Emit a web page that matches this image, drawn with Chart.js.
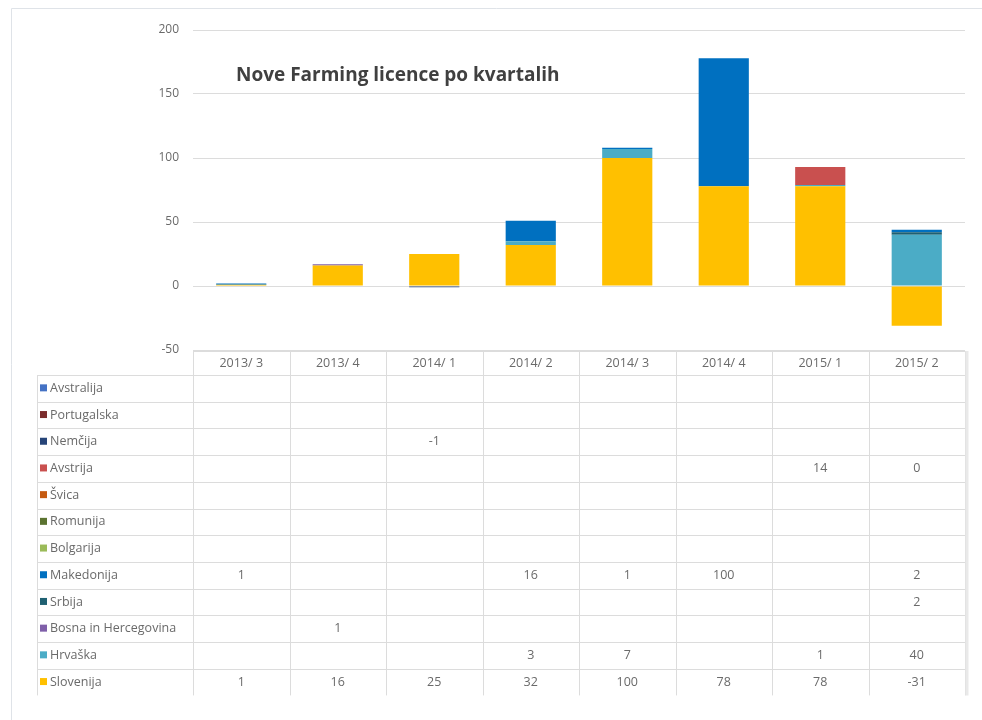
<!DOCTYPE html>
<html>
<head>
<meta charset="utf-8">
<script src="https://cdn.jsdelivr.net/npm/chart.js@4.4.1/dist/chart.umd.min.js"></script>
<style>
    html, body { margin: 0; padding: 0; background: #ffffff; }
    #wrap { width: 982px; height: 720px; }
</style>
</head>
<body>
<div id="wrap"><canvas id="licenceChart" width="982" height="720"></canvas></div>
<script>
// Categories (quarters)
const quarters = ["2013/ 3", "2013/ 4", "2014/ 1", "2014/ 2", "2014/ 3", "2014/ 4", "2015/ 1", "2015/ 2"];

// Series values
const slovenija   = [1, 16, 25, 32, 100, 78, 78, -31];
const hrvaska     = [null, null, null, 3, 7, null, 1, 40];
const bosna       = [null, 1, null, null, null, null, null, null];
const srbija      = [null, null, null, null, null, null, null, 2];
const makedonija  = [1, null, null, 16, 1, 100, null, 2];
const bolgarija   = [null, null, null, null, null, null, null, null];
const romunija    = [null, null, null, null, null, null, null, null];
const svica       = [null, null, null, null, null, null, null, null];
const avstrija    = [null, null, null, null, null, null, 14, 0];
const nemcija     = [null, null, -1, null, null, null, null, null];
const portugalska = [null, null, null, null, null, null, null, null];
const avstralija  = [null, null, null, null, null, null, null, null];

const yTicks = [-50, 0, 50, 100, 150, 200];
const chartTitle = "Nove Farming licence po kvartalih";

// Stack order: first series sits at the bottom of each column
const series = [
    { label: "Slovenija", data: slovenija, color: "#FFC000" },
    { label: "Hrvaška", data: hrvaska, color: "#4BACC6" },
    { label: "Bosna in Hercegovina", data: bosna, color: "#7F5FA9" },
    { label: "Srbija", data: srbija, color: "#1F6072" },
    { label: "Makedonija", data: makedonija, color: "#0070C0" },
    { label: "Bolgarija", data: bolgarija, color: "#9BBB59" },
    { label: "Romunija", data: romunija, color: "#5B7330" },
    { label: "Švica", data: svica, color: "#C55A11" },
    { label: "Avstrija", data: avstrija, color: "#C9504F" },
    { label: "Nemčija", data: nemcija, color: "#264478" },
    { label: "Portugalska", data: portugalska, color: "#7B2C2C" },
    { label: "Avstralija", data: avstralija, color: "#4472C4" },
];

const textColor = "#6a6a6a";
const lineColor = "#dcdcdc";
const baseFont = "'Open Sans', 'DejaVu Sans', sans-serif";

// Frame, title and the data table under the plot
const dataTablePlugin = {
    id: "dataTable",
    beforeDraw(chart) {
        const ctx = chart.ctx;
        ctx.save();
        ctx.strokeStyle = "#dfe3e8";
        ctx.lineWidth = 1;
        ctx.beginPath();
        ctx.moveTo(11.5, chart.height);
        ctx.lineTo(11.5, 8.5);
        ctx.lineTo(chart.width, 8.5);
        ctx.stroke();
        ctx.restore();
    },
    afterDraw(chart) {
        const ctx = chart.ctx;
        const area = chart.chartArea;
        const xScale = chart.scales.x;
        const colW = (area.right - area.left) / quarters.length;
        const headerTop = area.bottom + 1;
        const headerH = 24;
        const rowH = 26.7;
        const labelLeft = 37;
        const rows = chart.data.datasets.slice().reverse();
        const tableBottom = headerTop + headerH + rowH * rows.length;

        ctx.save();

        // title inside the plot
        ctx.fillStyle = "#404040";
        ctx.font = "700 19px " + baseFont;
        ctx.textAlign = "left";
        ctx.textBaseline = "middle";
        ctx.fillText(chartTitle, area.left + 43, area.top + 46);

        // grid lines of the table
        ctx.strokeStyle = lineColor;
        ctx.lineWidth = 1;
        ctx.beginPath();
        ctx.moveTo(area.left, Math.round(headerTop) + 0.5);
        ctx.lineTo(area.right, Math.round(headerTop) + 0.5);
        for (let r = 0; r < rows.length; r++) {
            const y = Math.round(headerTop + headerH + r * rowH) + 0.5;
            ctx.moveTo(labelLeft, y);
            ctx.lineTo(area.right, y);
        }
        for (let c = 0; c <= quarters.length; c++) {
            const x = Math.round(area.left + c * colW) + 0.5;
            ctx.moveTo(x, headerTop);
            ctx.lineTo(x, tableBottom);
        }
        ctx.moveTo(labelLeft + 0.5, headerTop + headerH);
        ctx.lineTo(labelLeft + 0.5, tableBottom);
        ctx.stroke();

        ctx.strokeStyle = "#e9e9e9";
        ctx.lineWidth = 3;
        ctx.beginPath();
        ctx.moveTo(area.right + 2, headerTop);
        ctx.lineTo(area.right + 2, tableBottom);
        ctx.stroke();

        // header labels
        ctx.fillStyle = textColor;
        ctx.font = "12.5px " + baseFont;
        ctx.textAlign = "center";
        quarters.forEach((q, i) => {
            ctx.fillText(q, xScale.getPixelForValue(i), headerTop + headerH / 2);
        });

        // rows: legend key, name and values
        rows.forEach((ds, r) => {
            const yMid = headerTop + headerH + r * rowH + rowH / 2;
            ctx.fillStyle = ds.backgroundColor;
            ctx.fillRect(labelLeft + 3, yMid - 4, 7, 7);
            ctx.fillStyle = textColor;
            ctx.textAlign = "left";
            ctx.fillText(ds.label, labelLeft + 13, yMid);
            ctx.textAlign = "center";
            ds.data.forEach((v, i) => {
                if (v !== null) {
                    ctx.fillText(String(v), xScale.getPixelForValue(i), yMid);
                }
            });
        });

        ctx.restore();
    }
};

const ctx = document.getElementById("licenceChart").getContext("2d");
new Chart(ctx, {
    type: "bar",
    data: {
        labels: quarters,
        datasets: series.map(s => ({
            label: s.label,
            data: s.data,
            backgroundColor: s.color,
            borderWidth: 0,
            categoryPercentage: 1,
            barPercentage: 0.52,
        })),
    },
    options: {
        responsive: false,
        animation: false,
        layout: {
            padding: { left: 0, top: 30, right: 17, bottom: 370 },
        },
        plugins: {
            legend: { display: false },
            title: { display: false },
            tooltip: { enabled: false },
        },
        scales: {
            x: {
                stacked: true,
                display: false,
            },
            y: {
                stacked: true,
                min: yTicks[0],
                max: yTicks[yTicks.length - 1],
                afterFit(scale) {
                    scale.width = 193;
                },
                afterBuildTicks(scale) {
                    scale.ticks = yTicks.map(v => ({ value: v }));
                },
                border: { display: false },
                grid: {
                    color: lineColor,
                    drawTicks: false,
                },
                ticks: {
                    color: textColor,
                    padding: 14,
                    font: { family: baseFont, size: 12 },
                },
            },
        },
    },
    plugins: [dataTablePlugin],
});
</script>
</body>
</html>
